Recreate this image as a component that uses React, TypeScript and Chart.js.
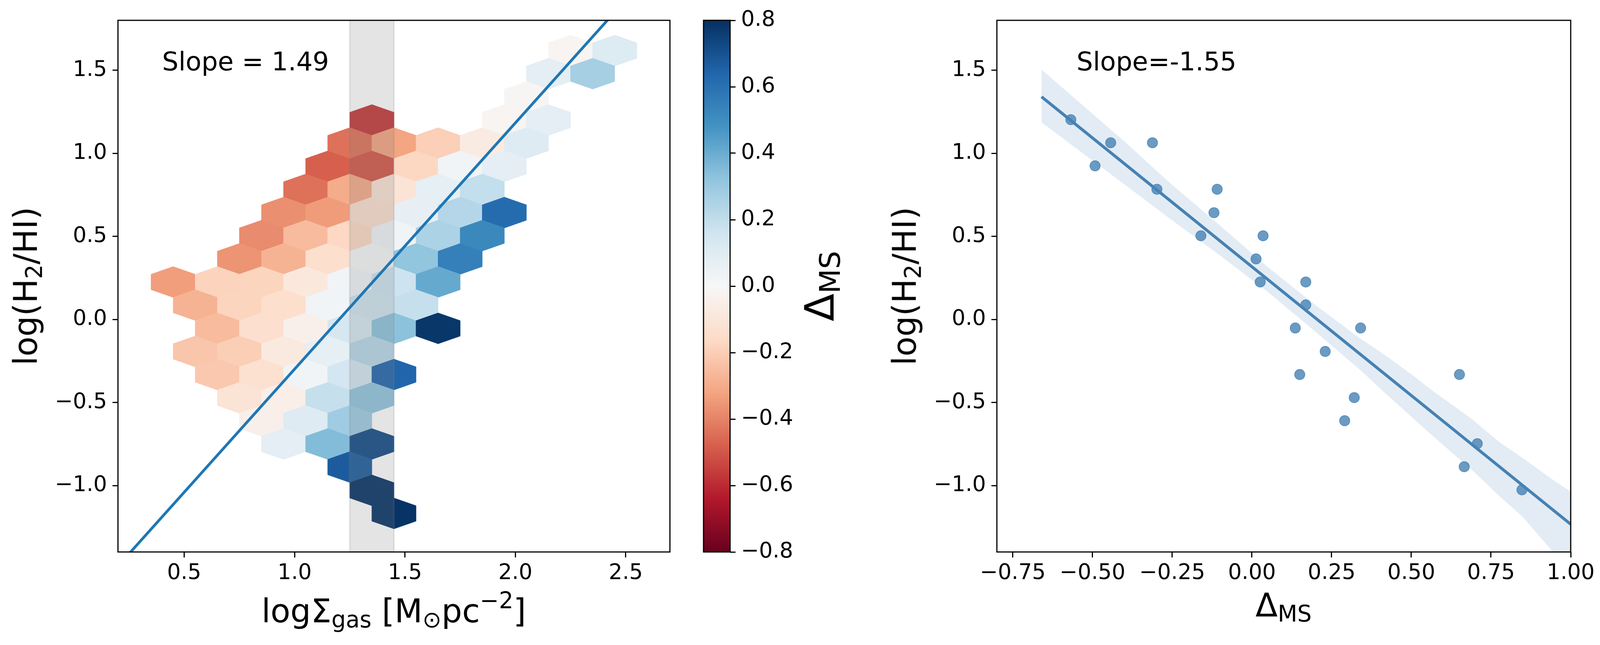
import { useEffect, useRef } from "react"
import { Chart, registerables } from "chart.js"

Chart.register(...registerables)

const FONT = "'DejaVu Sans', 'Liberation Sans', sans-serif"
const TICK_SIZE = 55

// ---- left panel: hexbin of log(H2/HI) vs log Σgas, coloured by mean Δ_MS ----
const hexX = [
  2.25, 2.45,
  2.15, 2.35,
  2.05,
  1.35, 1.95, 2.15,
  1.25, 1.45, 1.65, 1.85, 2.05,
  1.15, 1.35, 1.55, 1.75, 1.95,
  1.05, 1.25, 1.45, 1.65, 1.85,
  0.95, 1.15, 1.35, 1.55, 1.75, 1.95,
  0.85, 1.05, 1.25, 1.45, 1.65, 1.85,
  0.75, 0.95, 1.15, 1.35, 1.55, 1.75,
  0.45, 0.65, 0.85, 1.05, 1.25, 1.45, 1.65,
  0.55, 0.75, 0.95, 1.15, 1.35, 1.55,
  0.65, 0.85, 1.05, 1.25, 1.45, 1.65,
  0.55, 0.75, 0.95, 1.15, 1.35,
  0.65, 0.85, 1.05, 1.25, 1.45,
  0.75, 0.95, 1.15, 1.35,
  0.85, 1.05, 1.25,
  0.95, 1.15, 1.35,
  1.25,
  1.35,
  1.45,
]
const hexY = [
  1.618, 1.618,
  1.479, 1.479,
  1.339,
  1.2, 1.2, 1.2,
  1.061, 1.061, 1.061, 1.061, 1.061,
  0.921, 0.921, 0.921, 0.921, 0.921,
  0.782, 0.782, 0.782, 0.782, 0.782,
  0.643, 0.643, 0.643, 0.643, 0.643, 0.643,
  0.504, 0.504, 0.504, 0.504, 0.504, 0.504,
  0.364, 0.364, 0.364, 0.364, 0.364, 0.364,
  0.225, 0.225, 0.225, 0.225, 0.225, 0.225, 0.225,
  0.086, 0.086, 0.086, 0.086, 0.086, 0.086,
  -0.054, -0.054, -0.054, -0.054, -0.054, -0.054,
  -0.193, -0.193, -0.193, -0.193, -0.193,
  -0.332, -0.332, -0.332, -0.332, -0.332,
  -0.472, -0.472, -0.472, -0.472,
  -0.611, -0.611, -0.611,
  -0.75, -0.75, -0.75,
  -0.889,
  -1.029,
  -1.168,
]
const hexV = [
  -0.02, 0.11,
  0.08, 0.27,
  -0.01,
  -0.57, -0.02, 0.08,
  -0.44, -0.32, -0.195, -0.07, 0.105,
  -0.48, -0.5, -0.17, 0.03, 0.08,
  -0.44, -0.3, -0.11, 0.075, 0.195,
  -0.37, -0.34, -0.13, 0.067, 0.234, 0.62,
  -0.38, -0.255, -0.165, 0.03, 0.254, 0.52,
  -0.36, -0.28, -0.14, 0.01, 0.32, 0.546,
  -0.336, -0.184, -0.178, -0.086, 0.03, 0.17, 0.41,
  -0.28, -0.178, -0.14, 0.03, 0.16, 0.19,
  -0.255, -0.137, -0.045, 0.14, 0.33, 0.78,
  -0.225, -0.2, -0.08, 0.075, 0.224,
  -0.216, -0.13, 0.03, 0.147, 0.64,
  -0.115, -0.05, 0.19, 0.32,
  -0.045, 0.105, 0.287,
  0.08, 0.35, 0.72,
  0.67,
  0.79,
  0.79,
]
const HEX_W = 0.2
const HEX_H = 0.2786

const leftXRange = [0.2, 2.7]
const yRange = [-1.4, 1.8]
const leftXTicks = [0.5, 1.0, 1.5, 2.0, 2.5]
const leftXTickLabels = ["0.5", "1.0", "1.5", "2.0", "2.5"]
const yTicks = [-1.0, -0.5, 0, 0.5, 1.0, 1.5]
const yTickLabels = ["\u22121.0", "\u22120.5", "0.0", "0.5", "1.0", "1.5"]

const bandX = [1.25, 1.45]
const fitLeftX = [0.2, 2.7]
const fitLeftY = [-1.485, 2.22]

// ---- colour bar ----
const cbarRange = [-0.8, 0.8]
const cbarTicks = [-0.8, -0.6, -0.4, -0.2, 0, 0.2, 0.4, 0.6, 0.8]
const cbarTickLabels = ["\u22120.8", "\u22120.6", "\u22120.4", "\u22120.2", "0.0", "0.2", "0.4", "0.6", "0.8"]
const RDBU = [
  "#67001f", "#b2182b", "#d6604d", "#f4a582", "#fddbc7", "#f7f7f7",
  "#d1e5f0", "#92c5de", "#4393c3", "#2166ac", "#053061",
]

// ---- right panel: log(H2/HI) vs Δ_MS ----
const ptsX = [
  -0.568, -0.492, -0.443, -0.312, -0.298, -0.16, -0.119, -0.109, 0.013, 0.026, 0.035, 0.136,
  0.15, 0.169, 0.169, 0.23, 0.291, 0.321, 0.341, 0.651, 0.666, 0.707, 0.847,
]
const ptsY = [
  1.202, 0.924, 1.063, 1.063, 0.783, 0.503, 0.642, 0.783, 0.364, 0.225, 0.503, -0.052,
  -0.332, 0.225, 0.087, -0.193, -0.61, -0.471, -0.052, -0.332, -0.887, -0.748, -1.026,
]
const fitRightX = [-0.66, 1.0]
const fitRightY = [1.34, -1.233]
const ciX = [-0.66, -0.39, -0.26, -0.1, 0.05, 0.2, 0.34, 0.41, 0.5, 0.56, 0.69, 0.78, 0.85, 0.94, 1.0]
const ciUpper = [1.504, 1.054, 0.826, 0.565, 0.315, 0.085, -0.115, -0.205, -0.33, -0.42, -0.6, -0.744, -0.835, -0.96, -1.037]
const ciLower = [1.186, 0.798, 0.61, 0.385, 0.165, -0.075, -0.305, -0.43, -0.585, -0.69, -0.906, -1.07, -1.19, -1.39, -1.52]
const rightXRange = [-0.8, 1.0]
const rightXTicks = [-0.75, -0.5, -0.25, 0, 0.25, 0.5, 0.75, 1.0]
const rightXTickLabels = ["\u22120.75", "\u22120.50", "\u22120.25", "0.00", "0.25", "0.50", "0.75", "1.00"]

function hexToRgb(h: string) {
  return [1, 3, 5].map((i) => parseInt(h.slice(i, i + 2), 16))
}

function rdbu(v: number) {
  let t = (v - cbarRange[0]) / (cbarRange[1] - cbarRange[0])
  t = Math.min(1, Math.max(0, t))
  const seg = Math.min(t * 10, 9.9999)
  const i = Math.floor(seg)
  const f = seg - i
  const a = hexToRgb(RDBU[i])
  const b = hexToRgb(RDBU[i + 1])
  const c = a.map((ch, k) => Math.round(ch + (b[k] - ch) * f))
  return `rgb(${c[0]},${c[1]},${c[2]})`
}

const pts = (xs: number[], ys: number[]) => xs.map((x, i) => ({ x, y: ys[i] }))

const HEX_CORNERS = [[0.5, -1 / 6], [0.5, 1 / 6], [0, 1 / 3], [-0.5, 1 / 6], [-0.5, -1 / 6], [0, -1 / 3]]

const hexPlugin = {
  id: "hexbin",
  beforeDatasetsDraw(chart: any) {
    const ds = chart.data.datasets.find((d: any) => d.label === "hexbin")
    if (!ds) return
    const { ctx, chartArea: a } = chart
    const xs = chart.scales.x
    const ys = chart.scales.y
    ctx.save()
    ctx.beginPath()
    ctx.rect(a.left, a.top, a.right - a.left, a.bottom - a.top)
    ctx.clip()
    ds.data.forEach((p: any) => {
      ctx.beginPath()
      HEX_CORNERS.forEach(([dx, dy], k) => {
        const px = xs.getPixelForValue(p.x + dx * HEX_W)
        const py = ys.getPixelForValue(p.y + dy * HEX_H)
        if (k === 0) ctx.moveTo(px, py)
        else ctx.lineTo(px, py)
      })
      ctx.closePath()
      const col = rdbu(p.v)
      ctx.fillStyle = col
      ctx.strokeStyle = col
      ctx.lineWidth = 1
      ctx.fill()
      ctx.stroke()
    })
    ctx.restore()
  },
}

const framePlugin = {
  id: "frame",
  afterDraw(chart: any) {
    const { ctx, chartArea: a } = chart
    ctx.save()
    ctx.strokeStyle = "#000"
    ctx.lineWidth = 3
    ctx.strokeRect(a.left, a.top, a.right - a.left, a.bottom - a.top)
    ctx.restore()
  },
}

const textPlugin = (text: string, x: number, y: number) => ({
  id: "slopeText",
  afterDraw(chart: any) {
    const { ctx } = chart
    ctx.save()
    ctx.font = `66px ${FONT}`
    ctx.fillStyle = "#000"
    ctx.textAlign = "left"
    ctx.textBaseline = "alphabetic"
    ctx.fillText(text, chart.scales.x.getPixelForValue(x), chart.scales.y.getPixelForValue(y))
    ctx.restore()
  },
})

function axis(range: number[], ticks: number[], labels: string[], size: number, vertical: boolean, extra: any = {}) {
  return {
    type: "linear",
    min: range[0],
    max: range[1],
    afterBuildTicks: (s: any) => {
      s.ticks = ticks.map((value) => ({ value }))
    },
    afterFit: (s: any) => {
      if (vertical) s.width = size
      else s.height = size
    },
    border: { display: false },
    grid: { drawOnChartArea: false, drawTicks: true, tickLength: 14, tickWidth: 3, lineWidth: 3, color: "#000" },
    ticks: {
      color: "#000",
      font: { family: FONT, size: TICK_SIZE },
      padding: vertical ? 14 : 8,
      autoSkip: false,
      maxRotation: 0,
      callback: (_v: any, i: number) => labels[i],
    },
    ...extra,
  }
}

const common = {
  animation: false,
  responsive: false,
  devicePixelRatio: 1,
  events: [],
  plugins: { legend: { display: false }, tooltip: { enabled: false } },
}

const Sub = ({ children }: { children: any }) => (
  <span style={{ fontSize: "0.7em", position: "relative", top: "0.22em" }}>{children}</span>
)
const Sup = ({ children }: { children: any }) => (
  <span style={{ fontSize: "0.7em", position: "relative", top: "-0.62em" }}>{children}</span>
)

const labelBase: any = {
  position: "absolute",
  fontFamily: FONT,
  lineHeight: 1,
  whiteSpace: "nowrap",
  color: "#000",
}

export default function App() {
  const leftRef = useRef<HTMLCanvasElement>(null)
  const cbarRef = useRef<HTMLCanvasElement>(null)
  const rightRef = useRef<HTMLCanvasElement>(null)

  useEffect(() => {
    if (!leftRef.current || !cbarRef.current || !rightRef.current) return

    const left = new Chart(leftRef.current, {
      type: "line",
      data: {
        datasets: [
          { label: "fit", data: pts(fitLeftX, fitLeftY), borderColor: "#1f77b4", borderWidth: 7, pointRadius: 0, clip: 0 },
          { label: "edge1", data: pts([bandX[0], bandX[0]], yRange), borderColor: "rgba(128,128,128,0.2)", borderWidth: 4, pointRadius: 0 },
          { label: "edge2", data: pts([bandX[1], bandX[1]], yRange), borderColor: "rgba(128,128,128,0.2)", borderWidth: 4, pointRadius: 0 },
          {
            label: "band",
            data: pts(bandX, [yRange[1], yRange[1]]),
            fill: "start",
            backgroundColor: "rgba(128,128,128,0.21)",
            borderColor: "rgba(0,0,0,0)",
            borderWidth: 0,
            pointRadius: 0,
          },
          {
            label: "hexbin",
            data: hexX.map((x, i) => ({ x, y: hexY[i], v: hexV[i] })),
            showLine: false,
            pointRadius: 0,
          },
        ],
      } as any,
      options: {
        ...common,
        layout: { padding: { top: 52, right: 45, left: 0, bottom: 0 } },
        scales: {
          x: axis(leftXRange, leftXTicks, leftXTickLabels, 238, false),
          y: axis(yRange, yTicks, yTickLabels, 302, true),
        },
      } as any,
      plugins: [hexPlugin, framePlugin, textPlugin("Slope = 1.49", 0.4, 1.5)],
    })

    const cbar = new Chart(cbarRef.current, {
      type: "bar",
      data: {
        labels: ["\u0394MS"],
        datasets: [
          {
            data: [[cbarRange[0], cbarRange[1]]],
            barPercentage: 1,
            categoryPercentage: 1,
            borderWidth: 0,
            backgroundColor: (c: any) => {
              const area = c.chart.chartArea
              if (!area) return RDBU[5]
              const g = c.chart.ctx.createLinearGradient(0, area.bottom, 0, area.top)
              RDBU.forEach((col, i) => g.addColorStop(i / 10, col))
              return g
            },
          },
        ],
      } as any,
      options: {
        ...common,
        layout: { padding: { top: 52, right: 0, left: 41, bottom: 238 } },
        scales: {
          x: { display: false },
          y: axis(cbarRange, cbarTicks, cbarTickLabels, 291, true, { position: "right" }),
        },
      } as any,
      plugins: [framePlugin],
    })

    const right = new Chart(rightRef.current, {
      type: "line",
      data: {
        datasets: [
          { label: "fit", data: pts(fitRightX, fitRightY), borderColor: "#4682b4", borderWidth: 7.5, pointRadius: 0 },
          {
            label: "galaxies",
            data: pts(ptsX, ptsY),
            showLine: false,
            pointRadius: 13,
            pointBorderWidth: 2,
            pointBackgroundColor: "rgba(70,130,180,0.8)",
            pointBorderColor: "rgba(70,130,180,0.8)",
          },
          {
            label: "ci upper",
            data: pts(ciX, ciUpper),
            fill: "+1",
            backgroundColor: "rgba(70,130,180,0.15)",
            borderColor: "rgba(0,0,0,0)",
            borderWidth: 0,
            pointRadius: 0,
          },
          {
            label: "ci lower",
            data: pts(ciX, ciLower),
            fill: false,
            borderColor: "rgba(0,0,0,0)",
            borderWidth: 0,
            pointRadius: 0,
          },
        ],
      } as any,
      options: {
        ...common,
        layout: { padding: { top: 52, right: 96, left: 0, bottom: 0 } },
        scales: {
          x: axis(rightXRange, rightXTicks, rightXTickLabels, 238, false),
          y: axis(yRange, yTicks, yTickLabels, 392, true),
        },
      } as any,
      plugins: [framePlugin, textPlugin("Slope=-1.55", -0.55, 1.5)],
    })

    return () => {
      left.destroy()
      cbar.destroy()
      right.destroy()
    }
  }, [])

  return (
    <div style={{ position: "absolute", left: 0, top: 0, width: 4117, height: 1650, background: "#fff", overflow: "hidden" }}>
      <canvas ref={leftRef} width={1760} height={1650} style={{ position: "absolute", left: 0, top: 0, width: 1760, height: 1650 }} />
      <canvas ref={cbarRef} width={400} height={1650} style={{ position: "absolute", left: 1760, top: 0, width: 400, height: 1650 }} />
      <canvas ref={rightRef} width={1957} height={1650} style={{ position: "absolute", left: 2160, top: 0, width: 1957, height: 1650 }} />

      {/* axis titles */}
      <div style={{ ...labelBase, fontSize: 83, left: 1008, top: 1522, transform: "translateX(-50%)" }}>
        logΣ<Sub>gas</Sub> [M<Sub>⊙</Sub>pc<Sup>−2</Sup>]
      </div>
      <div style={{ ...labelBase, fontSize: 83, left: 66, top: 732, transform: "translate(-50%, -50%) rotate(-90deg)" }}>
        log(H<Sub>2</Sub>/HI)
      </div>
      <div style={{ ...labelBase, fontSize: 104, left: 2098, top: 732, transform: "translate(-50%, -50%) rotate(-90deg)" }}>
        Δ<Sub>MS</Sub>
      </div>
      <div style={{ ...labelBase, fontSize: 83, left: 2316, top: 732, transform: "translate(-50%, -50%) rotate(-90deg)" }}>
        log(H<Sub>2</Sub>/HI)
      </div>
      <div style={{ ...labelBase, fontSize: 83, left: 3286, top: 1507, transform: "translateX(-50%)" }}>
        Δ<Sub>MS</Sub>
      </div>
    </div>
  )
}
